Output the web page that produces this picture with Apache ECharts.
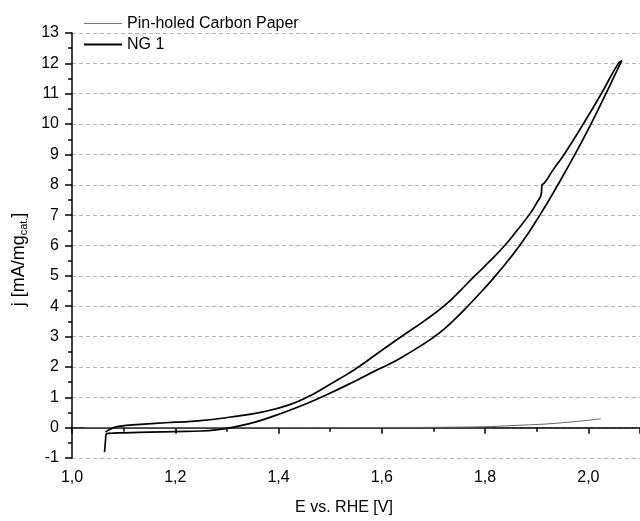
<!DOCTYPE html>
<html>
<head>
<meta charset="utf-8">
<script src="https://cdn.jsdelivr.net/npm/echarts@6/dist/echarts.min.js"></script>
<style>
  html, body { margin: 0; padding: 0; background: #fff; }
  #main { width: 640px; height: 521px; }
</style>
</head>
<body>
<div id="main"></div>
<script>
// [E (V), j (mA/mg)]
const pinholed = [
  [1.025, 0], [1.2, 0], [1.4, 0], [1.6, 0.005], [1.7, 0.01], [1.8, 0.03],
  [1.854, 0.07], [1.918, 0.12], [1.981, 0.21], [2.024, 0.29]
]

// forward scan (lower branch)
const ngForward = [
  [1.063, -0.81], [1.065, -0.4], [1.066, -0.22], [1.072, -0.19], [1.10, -0.17],
  [1.15, -0.15], [1.2, -0.13], [1.25, -0.11], [1.28, -0.07], [1.308, 0.0],
  [1.358, 0.2], [1.41, 0.5], [1.45, 0.76], [1.489, 1.05], [1.549, 1.54],
  [1.587, 1.87], [1.613, 2.08], [1.635, 2.28], [1.676, 2.7], [1.697, 2.94],
  [1.72, 3.24], [1.74, 3.55], [1.763, 3.94], [1.794, 4.5], [1.820, 5.0],
  [1.867, 6.0], [1.906, 7.0], [1.941, 8.0], [1.974, 9.0], [2.005, 10.0],
  [2.034, 11.0], [2.062, 12.0], [2.065, 12.09]
]

// reverse scan (upper branch)
const ngReverse = [
  [2.058, 12.0], [2.025, 11.0], [1.990, 10.0], [1.953, 9.0], [1.932, 8.5],
  [1.916, 8.08], [1.910, 7.98], [1.909, 7.72], [1.900, 7.4], [1.887, 7.05],
  [1.862, 6.5], [1.838, 6.0], [1.810, 5.5], [1.780, 5.0], [1.751, 4.5],
  [1.72, 4.0], [1.681, 3.5], [1.638, 3.0], [1.592, 2.45], [1.549, 1.93],
  [1.517, 1.6], [1.486, 1.29], [1.46, 1.04], [1.422, 0.76], [1.37, 0.52],
  [1.308, 0.35], [1.244, 0.22], [1.2, 0.18], [1.161, 0.14], [1.117, 0.09],
  [1.098, 0.06], [1.082, 0.01], [1.072, -0.07], [1.065, -0.15]
]

const xTicks = [1.0, 1.2, 1.4, 1.6, 1.8, 2.0]
const seriesNames = ['Pin-holed Carbon Paper', 'NG 1']

var myChart = echarts.init(document.getElementById('main'))

var font = 'Liberation Sans, Arial, sans-serif'

var option = {
  animation: false,
  backgroundColor: '#fff',
  textStyle: { fontFamily: font },
  legend: {
    orient: 'vertical',
    left: 79,
    top: 10,
    itemWidth: 38,
    itemHeight: 2,
    itemGap: 4,
    icon: 'rect',
    textStyle: { fontSize: 16, color: '#000', fontFamily: font, lineHeight: 17 },
    data: [
      { name: seriesNames[0], icon: 'path://M0,0H38V1H0Z', itemStyle: { color: '#777' } },
      { name: seriesNames[1], icon: 'rect', itemStyle: { color: '#000' } }
    ]
  },
  grid: {
    left: 72,
    right: -9,
    top: 33,
    bottom: 62
  },
  xAxis: {
    type: 'value',
    min: 1.0,
    max: 2.1,
    interval: 0.2,
    name: 'E vs. RHE [V]',
    nameLocation: 'middle',
    nameGap: 42,
    nameTextStyle: { fontSize: 16, color: '#000', padding: [0, 24, 0, 0] },
    axisLine: { lineStyle: { color: '#000', width: 1.5 } },
    axisTick: { length: 6, lineStyle: { color: '#000', width: 1.5 } },
    minorTick: { show: true, splitNumber: 2, length: 4, lineStyle: { color: '#000', width: 1.5 } },
    axisLabel: {
      fontSize: 16,
      color: '#000',
      margin: 12,
      showMaxLabel: false,
      formatter: function (v) {
        return xTicks.some(t => Math.abs(t - v) < 1e-6) ? v.toFixed(1).replace('.', ',') : ''
      }
    },
    splitLine: { show: false }
  },
  yAxis: {
    type: 'value',
    min: -1,
    max: 13,
    interval: 1,
    name: 'j [mA/mg{sub|cat.}]',
    nameLocation: 'middle',
    nameGap: 43,
    nameTextStyle: {
      fontSize: 18,
      color: '#000',
      padding: [0, 28, 0, 0],
      rich: {
        sub: { fontSize: 11, color: '#000', verticalAlign: 'bottom', padding: [9, 0, 0, 0] }
      }
    },
    axisLine: { lineStyle: { color: '#000', width: 1.5 } },
    axisTick: { length: 7, lineStyle: { color: '#000', width: 1.5 } },
    minorTick: { show: true, splitNumber: 2, length: 4, lineStyle: { color: '#000', width: 1.5 } },
    axisLabel: { fontSize: 16, color: '#000', margin: 13 },
    splitLine: { show: true, lineStyle: { color: '#b4b4b4', type: [4, 3], width: 1 } }
  },
  series: [
    {
      name: seriesNames[0],
      type: 'line',
      data: pinholed,
      symbol: 'none',
      smooth: 0.3,
      lineStyle: { color: '#666', width: 1 },
      itemStyle: { color: '#666' },
      z: 3
    },
    {
      name: seriesNames[1],
      type: 'line',
      data: ngForward.concat(ngReverse),
      symbol: 'none',
      smooth: 0.5,
      lineStyle: { color: '#000', width: 1.7 },
      itemStyle: { color: '#000' },
      z: 4
    }
  ]
}

myChart.setOption(option)
</script>
</body>
</html>
